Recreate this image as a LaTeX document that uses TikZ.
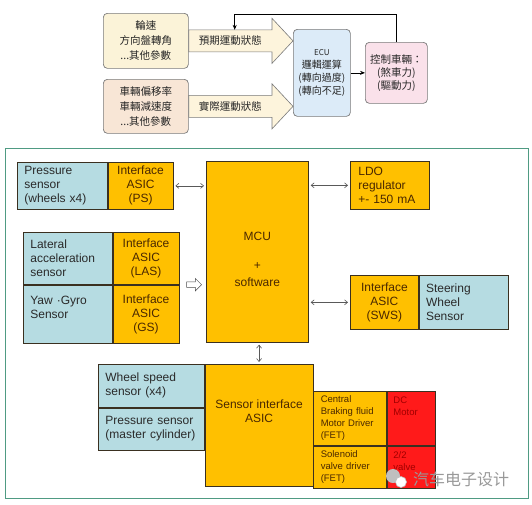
\documentclass[tikz,border=0pt]{standalone}
\usepackage{fontspec}
\setmainfont{Liberation Sans}
\newfontfamily\cjk{Noto Sans CJK TC}
\newfontfamily\cjksc{Noto Sans CJK SC}
\usepackage{tikz}
\usetikzlibrary{calc, positioning, arrows.meta, shapes.arrows}

\definecolor{asic}{HTML}{FFC000}
\definecolor{sensblue}{HTML}{B6DCE2}
\definecolor{motorred}{HTML}{FF1A1A}
\definecolor{boxline}{HTML}{3A3020}
\definecolor{asicfg}{HTML}{4A2800}
\definecolor{sensfg}{HTML}{2A2A2A}
\definecolor{motorfg}{HTML}{A00000}
\definecolor{framegreen}{HTML}{4F9B83}
\definecolor{wheelbg}{HTML}{FBF3D8}
\definecolor{vehbg}{HTML}{F8E6D6}
\definecolor{ecubg}{HTML}{DCEBF8}
\definecolor{ctrlbg}{HTML}{FAE1EA}
\definecolor{softline}{HTML}{7A7A7A}
\definecolor{arrowbg}{HTML}{FDF4DC}

\tikzset{
  topbox/.style={draw=softline, line width=0.7pt, rounded corners=4pt, anchor=north west,
    align=center, inner sep=0pt, text=black!85, font={\cjk\fontsize{10.5}{15}\selectfont}},
  bigarrow/.style={draw=softline, line width=0.6pt, fill=arrowbg},
  base/.style={draw=boxline, line width=0.7pt, inner sep=0pt, anchor=north west,
    font={\fontsize{12}{14}\selectfont}},
  ibox/.style={base, fill=asic, text=asicfg, align=center},
  lbox/.style={base, fill=asic, text=asicfg, align=left},
  sbox/.style={base, fill=sensblue, text=sensfg, align=left},
  dbox/.style={lbox, font={\fontsize{9.5}{12}\selectfont}},
  mbox/.style={base, fill=motorred, text=motorfg, align=left, font={\fontsize{9.5}{12}\selectfont}},
  dbl/.style={{Straight Barb[length=3pt,width=5pt]}-{Straight Barb[length=3pt,width=5pt]},
    draw=black!65, line width=0.6pt, shorten >=2pt, shorten <=2pt},
  hollowarrow/.style={single arrow, draw=black!70, fill=white, line width=0.5pt,
    minimum height=15pt, inner sep=2.5pt, single arrow head extend=3.5pt}
}

\begin{document}
\begin{tikzpicture}[x=1pt, y=-1pt]

  \fill[white] (0,0) rectangle (532,504);
  \useasboundingbox (0,0) rectangle (532,504);

  % vehicle dynamics control loop

  \node[topbox, fill=wheelbg, minimum width=85, minimum height=55] (wheel) at (103,13) {輪速\\方向盤轉角\\...其他參數};
  \node[topbox, fill=vehbg, minimum width=85, minimum height=54] (yaw) at (103,79) {車輛偏移率\\車輛減速度\\...其他參數};
  \node[topbox, fill=ecubg, minimum width=57, minimum height=87, font={\cjk\fontsize{10}{13}\selectfont}] (ecu) at (293,29)
    {{\fontsize{8}{10}\selectfont ECU}\\邏輯運算\\(轉向過度)\\(轉向不足)};
  \node[topbox, fill=ctrlbg, minimum width=62, minimum height=61, font={\cjk\fontsize{10.5}{13}\selectfont}] (ctrl) at (365,42)
    {控制車輛：\\(煞車力)\\(驅動力)};

  \coordinate (tip1) at (wheel.east -| ecu.west);
  \coordinate (tip2) at (yaw.east -| ecu.west);
  \draw[bigarrow] ($(wheel.east)+(0,-11)$) -- ($(tip1)+(-21,-11)$) -- ($(tip1)+(-21,-22.5)$) -- (tip1)
    -- ($(tip1)+(-21,22.5)$) -- ($(tip1)+(-21,11)$) -- ($(wheel.east)+(0,11)$) -- cycle;
  \draw[bigarrow] ($(yaw.east)+(0,-11)$) -- ($(tip2)+(-21,-11)$) -- ($(tip2)+(-21,-22.5)$) -- (tip2)
    -- ($(tip2)+(-21,22.5)$) -- ($(tip2)+(-21,11)$) -- ($(yaw.east)+(0,11)$) -- cycle;
  \node[font={\cjk\fontsize{10.5}{12}\selectfont}, text=black!85] (plan) at ($(wheel.east)!0.5!($(tip1)+(-21,0)$)$) {預期運動狀態};
  \node[font={\cjk\fontsize{10.5}{12}\selectfont}, text=black!85] (real) at ($(yaw.east)!0.5!($(tip2)+(-21,0)$)$) {實際運動狀態};

  \draw[-{Stealth[length=5pt,width=4pt]}, line width=0.7pt] (ecu) -- (ctrl);
  \coordinate (fb) at ($(wheel.east)+(46,-11)$);
  \draw[-{Stealth[length=5pt,width=4pt]}, line width=0.7pt] (ctrl.north) -- ++(0,-28) -| (fb);

  % ESC module block diagram

  \node[draw=framegreen, line width=0.9pt, anchor=north west, minimum width=523, minimum height=350] (panel) at (5,148) {};

  \node[sbox, minimum width=90, minimum height=47, text width=76] (pss) at (17,162) {Pressure\\sensor\\(wheels x4)};
  \node[ibox, minimum width=65, minimum height=47] (psi) at (pss.north east) {Interface\\ASIC\\(PS)};

  \node[ibox, minimum width=102, minimum height=181] (mcu) at (206,161) {~\\[10pt]MCU\\[15pt]+\\[3pt]software};

  \node[lbox, minimum width=79, minimum height=48, text width=63] (ldo) at (350,161) {LDO\\regulator\\+- 150 mA};

  \node[sbox, minimum width=89, minimum height=52, text width=75] (las) at (23,232) {Lateral\\acceleration\\sensor};
  \node[ibox, minimum width=66, minimum height=52] (lasi) at (las.north east) {Interface\\ASIC\\(LAS)};
  \node[sbox, minimum width=89, minimum height=58, text width=75] (gys) at (las.south west) {Yaw ·Gyro\\Sensor\\~};
  \node[ibox, minimum width=66, minimum height=58] (gysi) at (gys.north east) {Interface\\ASIC\\(GS)};

  \node[ibox, minimum width=68, minimum height=54] (swsi) at (350,275) {Interface\\ASIC\\(SWS)};
  \node[sbox, minimum width=89, minimum height=54, text width=75] (swss) at (swsi.north east) {Steering\\Wheel\\Sensor};

  \node[sbox, minimum width=106, minimum height=43, text width=92] (wss) at (98,364) {Wheel speed\\sensor (x4)};
  \node[sbox, minimum width=106, minimum height=42, text width=92] (pms) at (wss.south west) {Pressure sensor\\(master cylinder)};
  \node[ibox, minimum width=108, minimum height=122] (sia) at (wss.north east) {Sensor interface\\ASIC\\~\\~};

  \node[dbox, minimum width=73, minimum height=54, text width=59] (cbd) at ($(sia.north east)+(0,27)$) {Central\\Braking fluid\\Motor Driver\\(FET)};
  \node[mbox, minimum width=48, minimum height=54, text width=36] (dcm) at (cbd.north east) {DC\\Motor\\~\\~};
  \node[dbox, minimum width=73, minimum height=42, text width=59] (svd) at (cbd.south west) {Solenoid\\valve driver\\(FET)};
  \node[mbox, minimum width=48, minimum height=42, text width=36] (vlv) at (svd.north east) {2/2\\valve\\~};

  % links to the MCU

  \draw[dbl] (psi.east) -- (psi.east -| mcu.west);
  \draw[dbl] (mcu.east |- ldo.west) -- (ldo.west);
  \draw[dbl] (mcu.east |- swsi.west) -- (swsi.west);
  \draw[dbl] (sia.north |- mcu.south) -- (sia.north);
  \node[hollowarrow] (grpin) at ($(lasi.south east)!0.5!(lasi.south east -| mcu.west)$) {};

  % watermark

  \fill[black!25] (393,476) circle (7);
  \fill[white, draw=black!25, line width=0.6pt] (401,482) circle (5.5);
  \node[font={\cjksc\fontsize{16}{16}\selectfont}, text=black!40, anchor=west, inner sep=0pt] (wmark) at (413,479) {汽车电子设计};

\end{tikzpicture}
\end{document}
